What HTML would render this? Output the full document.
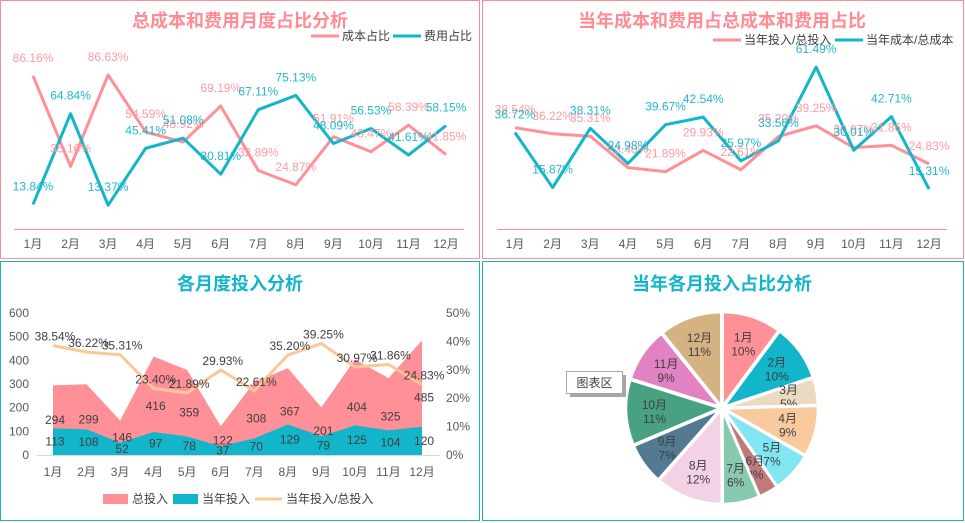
<!DOCTYPE html>
<html><head><meta charset="utf-8"><style>
body{margin:0;background:#fff;width:965px;height:523px;overflow:hidden}
svg{display:block;font-family:"Liberation Sans","Noto Sans CJK SC",sans-serif}
</style></head><body>
<svg id="s" width="965" height="523" xmlns="http://www.w3.org/2000/svg">
<rect x="0.5" y="0.5" width="479" height="258" fill="none" stroke="#FF8C94"/>
<rect x="482.5" y="0.5" width="481" height="258" fill="none" stroke="#FF8C94"/>
<rect x="0.5" y="261.5" width="479" height="259" fill="none" stroke="#12B5C9"/>
<rect x="482.5" y="261.5" width="481" height="259" fill="none" stroke="#12B5C9"/>
<text x="240" y="27" text-anchor="middle" font-size="18" font-weight="bold" fill="#FF8C94">总成本和费用月度占比分析</text>
<text x="722" y="27" text-anchor="middle" font-size="18" font-weight="bold" fill="#FF8C94">当年成本和费用占总成本和费用占比</text>
<text x="240" y="290" text-anchor="middle" font-size="18" font-weight="bold" fill="#12B5C9">各月度投入分析</text>
<text x="722" y="290" text-anchor="middle" font-size="18" font-weight="bold" fill="#12B5C9">当年各月投入占比分析</text>
</svg>
<script>
const months=['1月','2月','3月','4月','5月','6月','7月','8月','9月','10月','11月','12月'];
const costRatio=[86.16,35.16,86.63,54.59,48.92,69.19,32.89,24.87,51.91,43.47,58.39,41.85];
const expenseRatio=[13.84,64.84,13.37,45.41,51.08,30.81,67.11,75.13,48.09,56.53,41.61,58.15];
const yearInputRatio=[38.54,36.22,35.31,23.40,21.89,29.93,22.61,35.20,39.25,30.97,31.86,24.83];
const yearCostRatio=[36.72,15.87,38.31,24.98,39.67,42.54,25.97,33.56,61.49,30.01,42.71,15.31];
const totalInput=[294,299,146,416,359,122,308,367,201,404,325,485];
const yearInput=[113,108,52,97,78,37,70,129,79,125,104,120];
const leftTicks=[0,100,200,300,400,500,600];
const rightTicks=[0,10,20,30,40,50];
const pieColors=['#FF9098','#12B5C9','#EADAC2','#F9CA9E','#80E6F2','#C07A7A','#88C8AE','#F4D2E6','#527A92','#48A282','#E282C2','#D4B282'];

const S=document.getElementById('s');const NS='http://www.w3.org/2000/svg';
function el(t,a,txt){const e=document.createElementNS(NS,t);for(const k in a)e.setAttribute(k,a[k]);if(txt!==undefined)e.textContent=txt;S.appendChild(e);return e;}
const PINK='#FF8C94',TEAL='#12B5C9',GRAY='#595959';

function lineChart(prefix,x0,step,yz,sc,axX1,axX2,series){
  const X=i=>x0+i*step, Y=v=>yz-v*sc;
  let a=el('line',{x1:axX1,x2:axX2,y1:229.5,y2:229.5,stroke:PINK,'stroke-width':1});
  
  months.forEach((m,i)=>{let t=el('text',{x:X(i),y:248,'text-anchor':'middle','font-size':12,fill:GRAY},m);
    });
  series.forEach(s=>{
    let p=el('polyline',{points:s.data.map((v,i)=>X(i)+','+Y(v)).join(' '),fill:'none',stroke:s.color,'stroke-width':3,'stroke-linejoin':'round'});
    
  });
  series.forEach(s=>{
    s.data.forEach((v,i)=>{let t=el('text',{x:X(i),y:Y(v)-14,'text-anchor':'middle','font-size':12,fill:s.tcolor},v.toFixed(2)+'%');
      });
  });
}
lineChart('chart1',33,37.55,229,1.778,14,464,[{name:'cost',data:costRatio,color:'#FF9098',tcolor:'#FF9AA2'},{name:'expense',data:expenseRatio,color:TEAL,tcolor:'#22B8CC'}]);
lineChart('chart2',515,37.64,229.5,2.642,497,947,[{name:'input',data:yearInputRatio,color:'#FF9098',tcolor:'#FF9AA2'},{name:'cost',data:yearCostRatio,color:TEAL,tcolor:'#22B8CC'}]);

function legLine(x,y,c,label,name){let l=el('line',{x1:x,x2:x+28,y1:y,y2:y,stroke:c,'stroke-width':3});
  
  let t=el('text',{x:x+31,y:y+4,'font-size':12,fill:'#404040'},label);}
legLine(311,36,'#FF9098','成本占比','legend-cost');
legLine(393,36,TEAL,'费用占比','legend-expense');
legLine(713,40,'#FF9098','当年投入/总投入','legend-year-input');
legLine(835,40,TEAL,'当年成本/总成本','legend-year-cost');

const X3=i=>53+i*33.55, Yl=v=>455-v*0.2367, Yr=v=>455-v*2.84;
leftTicks.forEach(v=>{let t=el('text',{x:29,y:Yl(v)+4,'text-anchor':'end','font-size':12,fill:GRAY},v);
  });
rightTicks.forEach(v=>{let t=el('text',{x:446,y:Yr(v)+4,'font-size':12,fill:GRAY},v+'%');
  });
let ar=el('path',{d:'M'+X3(0)+',455 '+totalInput.map((v,i)=>'L'+X3(i)+','+Yl(v)).join(' ')+' L'+X3(11)+',455Z',fill:'#FF9098'});

let ar2=el('path',{d:'M'+X3(0)+',455 '+yearInput.map((v,i)=>'L'+X3(i)+','+Yl(v)).join(' ')+' L'+X3(11)+',455Z',fill:'#12B5C9'});

let ax3=el('line',{x1:37,x2:440,y1:455.5,y2:455.5,stroke:'#D9D9D9'});
let ol=el('polyline',{points:yearInputRatio.map((v,i)=>X3(i)+','+Yr(v)).join(' '),fill:'none',stroke:'#FAC898','stroke-width':3,'stroke-linejoin':'round'});

months.forEach((m,i)=>{let t=el('text',{x:X3(i),y:476,'text-anchor':'middle','font-size':12,fill:GRAY},m);
  });
totalInput.forEach((v,i)=>{let t=el('text',{x:X3(i)+2,y:(Yl(v)+455)/2+4,'text-anchor':'middle','font-size':12,fill:'#404040'},v);
  });
yearInput.forEach((v,i)=>{let t=el('text',{x:X3(i)+2,y:(Yl(v)+455)/2+4,'text-anchor':'middle','font-size':12,fill:'#404040'},v);
  });
yearInputRatio.forEach((v,i)=>{let t=el('text',{x:X3(i)+2,y:Yr(v)-5,'text-anchor':'middle','font-size':12,fill:'#404040'},v.toFixed(2)+'%');
  });
function legBox(x,c,label,name){let r=el('rect',{x:x,y:494,width:25,height:10,fill:c});
  let t=el('text',{x:x+29,y:503,'font-size':12,fill:'#404040'},label);}
legBox(103,'#FF9098','总投入','legend-total-input');
legBox(173,TEAL,'当年投入','legend-year-input-area');
let ll=el('line',{x1:255,x2:282,y1:499,y2:499,stroke:'#FAC898','stroke-width':3});
let lt=el('text',{x:286,y:503,'font-size':12,fill:'#404040'},'当年投入/总投入');

const cx=722,cy=408,R=94;const sum=yearInput.reduce((a,b)=>a+b,0);
let ang=-Math.PI/2;
yearInput.forEach((v,i)=>{
  const a1=ang,a2=ang+v/sum*2*Math.PI;ang=a2;const mid=(a1+a2)/2;
  const ox=Math.cos(mid)*2,oy=Math.sin(mid)*2;
  const p=(a)=>[(cx+ox+R*Math.cos(a)).toFixed(2),(cy+oy+R*Math.sin(a)).toFixed(2)];
  const [x1,y1]=p(a1),[x2,y2]=p(a2);
  let s=el('path',{d:`M${cx+ox},${cy+oy} L${x1},${y1} A${R},${R} 0 ${a2-a1>Math.PI?1:0} 1 ${x2},${y2} Z`,fill:pieColors[i],stroke:'#fff','stroke-width':2.5});
  
  const lr=R*0.72,lx=cx+lr*Math.cos(mid),ly=cy+lr*Math.sin(mid);
  let t1=el('text',{x:lx,y:ly-2,'text-anchor':'middle','font-size':12,fill:'#404040'},months[i]);
  
  let t2=el('text',{x:lx,y:ly+12,'text-anchor':'middle','font-size':12,fill:'#404040'},Math.round(v/sum*100)+'%');
  
});
let sh=el('rect',{x:570,y:375,width:56,height:22,fill:'#A6A6A6'});
let tb=el('rect',{x:566.5,y:371.5,width:56,height:22,fill:'#fff',stroke:'#A6A6A6'});
let tt=el('text',{x:594.5,y:387,'text-anchor':'middle','font-size':12,fill:'#404040'},'图表区');
</script>
</body></html>
